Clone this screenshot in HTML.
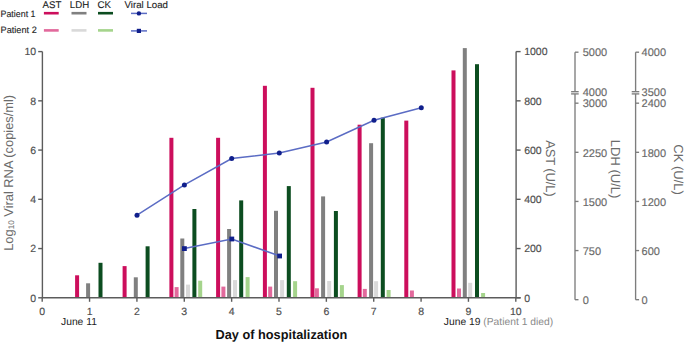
<!DOCTYPE html>
<html><head><meta charset="utf-8"><style>
html,body{margin:0;padding:0;background:#fff;width:685px;height:343px;overflow:hidden}
svg{display:block}
text{font-family:"Liberation Sans", sans-serif;text-rendering:geometricPrecision}
</style></head><body>
<svg width="685" height="343" viewBox="0 0 685 343">

<rect x="75.10" y="275.30" width="4.0" height="22.50" fill="#cc0e5c"/>
<rect x="86.10" y="283.30" width="4.0" height="14.50" fill="#808080"/>
<rect x="98.50" y="262.80" width="4.0" height="35.00" fill="#0c4d20"/>
<rect x="122.60" y="266.10" width="4.0" height="31.70" fill="#cc0e5c"/>
<rect x="133.80" y="277.30" width="4.0" height="20.50" fill="#808080"/>
<rect x="145.60" y="246.30" width="4.0" height="51.50" fill="#0c4d20"/>
<rect x="169.40" y="137.80" width="4.0" height="160.00" fill="#cc0e5c"/>
<rect x="174.60" y="287.10" width="4.0" height="10.70" fill="#e2699c"/>
<rect x="180.30" y="238.50" width="4.0" height="59.30" fill="#808080"/>
<rect x="186.00" y="284.60" width="4.0" height="13.20" fill="#d9d9d9"/>
<rect x="192.40" y="209.00" width="4.0" height="88.80" fill="#0c4d20"/>
<rect x="198.20" y="280.70" width="4.0" height="17.10" fill="#a5d48c"/>
<rect x="216.10" y="137.80" width="4.0" height="160.00" fill="#cc0e5c"/>
<rect x="221.40" y="286.60" width="4.0" height="11.20" fill="#e2699c"/>
<rect x="227.10" y="229.00" width="4.0" height="68.80" fill="#808080"/>
<rect x="233.00" y="280.10" width="4.0" height="17.70" fill="#d9d9d9"/>
<rect x="239.20" y="200.40" width="4.0" height="97.40" fill="#0c4d20"/>
<rect x="245.60" y="277.10" width="4.0" height="20.70" fill="#a5d48c"/>
<rect x="262.90" y="85.80" width="4.0" height="212.00" fill="#cc0e5c"/>
<rect x="268.20" y="286.60" width="4.0" height="11.20" fill="#e2699c"/>
<rect x="274.00" y="210.80" width="4.0" height="87.00" fill="#808080"/>
<rect x="280.10" y="280.10" width="4.0" height="17.70" fill="#d9d9d9"/>
<rect x="286.80" y="186.10" width="4.0" height="111.70" fill="#0c4d20"/>
<rect x="293.10" y="281.20" width="4.0" height="16.60" fill="#a5d48c"/>
<rect x="310.50" y="87.80" width="4.0" height="210.00" fill="#cc0e5c"/>
<rect x="314.90" y="288.30" width="4.0" height="9.50" fill="#e2699c"/>
<rect x="321.10" y="196.40" width="4.0" height="101.40" fill="#808080"/>
<rect x="327.20" y="281.00" width="4.0" height="16.80" fill="#d9d9d9"/>
<rect x="333.90" y="211.00" width="4.0" height="86.80" fill="#0c4d20"/>
<rect x="339.90" y="285.10" width="4.0" height="12.70" fill="#a5d48c"/>
<rect x="357.60" y="124.70" width="4.0" height="173.10" fill="#cc0e5c"/>
<rect x="362.80" y="288.90" width="4.0" height="8.90" fill="#e2699c"/>
<rect x="369.10" y="143.20" width="4.0" height="154.60" fill="#808080"/>
<rect x="374.10" y="281.20" width="4.0" height="16.60" fill="#d9d9d9"/>
<rect x="380.80" y="117.70" width="4.0" height="180.10" fill="#0c4d20"/>
<rect x="386.60" y="290.00" width="4.0" height="7.80" fill="#a5d48c"/>
<rect x="404.30" y="120.60" width="4.0" height="177.20" fill="#cc0e5c"/>
<rect x="409.90" y="290.50" width="4.0" height="7.30" fill="#e2699c"/>
<rect x="451.50" y="70.40" width="4.0" height="227.40" fill="#cc0e5c"/>
<rect x="457.00" y="288.50" width="4.0" height="9.30" fill="#e2699c"/>
<rect x="462.80" y="48.10" width="4.0" height="249.70" fill="#808080"/>
<rect x="468.20" y="282.80" width="4.0" height="15.00" fill="#d9d9d9"/>
<rect x="475.00" y="64.20" width="4.0" height="233.60" fill="#0c4d20"/>
<rect x="481.10" y="293.00" width="4.0" height="4.80" fill="#a5d48c"/>
<g stroke="#5c5c5c" stroke-width="1.4" fill="none">
<line x1="42.400000000000006" y1="51.6" x2="42.400000000000006" y2="297.8"/>
<line x1="38.2" y1="297.80" x2="42.400000000000006" y2="297.80"/>
<line x1="38.2" y1="248.56" x2="42.400000000000006" y2="248.56"/>
<line x1="38.2" y1="199.32" x2="42.400000000000006" y2="199.32"/>
<line x1="38.2" y1="150.08" x2="42.400000000000006" y2="150.08"/>
<line x1="38.2" y1="100.84" x2="42.400000000000006" y2="100.84"/>
<line x1="38.2" y1="51.60" x2="42.400000000000006" y2="51.60"/>
<line x1="42.2" y1="297.8" x2="520.6" y2="297.8"/>
<line x1="42.20" y1="297.8" x2="42.20" y2="301.8"/>
<line x1="89.56" y1="297.8" x2="89.56" y2="301.8"/>
<line x1="136.92" y1="297.8" x2="136.92" y2="301.8"/>
<line x1="184.28" y1="297.8" x2="184.28" y2="301.8"/>
<line x1="231.64" y1="297.8" x2="231.64" y2="301.8"/>
<line x1="279.00" y1="297.8" x2="279.00" y2="301.8"/>
<line x1="326.36" y1="297.8" x2="326.36" y2="301.8"/>
<line x1="373.72" y1="297.8" x2="373.72" y2="301.8"/>
<line x1="421.08" y1="297.8" x2="421.08" y2="301.8"/>
<line x1="468.44" y1="297.8" x2="468.44" y2="301.8"/>
<line x1="515.80" y1="297.8" x2="515.80" y2="301.8"/>
<line x1="516.10" y1="51.6" x2="516.10" y2="297.8"/>
<line x1="516.10" y1="297.80" x2="520.60" y2="297.80"/>
<line x1="516.10" y1="248.56" x2="520.60" y2="248.56"/>
<line x1="516.10" y1="199.32" x2="520.60" y2="199.32"/>
<line x1="516.10" y1="150.08" x2="520.60" y2="150.08"/>
<line x1="516.10" y1="100.84" x2="520.60" y2="100.84"/>
<line x1="516.10" y1="51.60" x2="520.60" y2="51.60"/>
</g>
<g stroke="#7d7d7d" stroke-width="1.35" fill="none">
<line x1="575.0" y1="52.2" x2="575.0" y2="91.7"/>
<line x1="575.0" y1="93.9" x2="575.0" y2="299.7"/>
<line x1="575.0" y1="52.2" x2="578.5" y2="52.2"/>
<line x1="575.0" y1="299.70" x2="578.5" y2="299.70"/>
<line x1="575.0" y1="250.57" x2="578.5" y2="250.57"/>
<line x1="575.0" y1="201.44" x2="578.5" y2="201.44"/>
<line x1="575.0" y1="152.31" x2="578.5" y2="152.31"/>
<line x1="575.0" y1="103.18" x2="578.5" y2="103.18"/>
<line x1="571.1" y1="91.7" x2="578.7" y2="91.7"/>
<line x1="571.1" y1="93.9" x2="578.7" y2="93.9"/>
<line x1="635.6" y1="52.2" x2="635.6" y2="91.7"/>
<line x1="635.6" y1="93.9" x2="635.6" y2="299.7"/>
<line x1="635.6" y1="52.2" x2="639.1" y2="52.2"/>
<line x1="635.6" y1="299.70" x2="639.1" y2="299.70"/>
<line x1="635.6" y1="250.57" x2="639.1" y2="250.57"/>
<line x1="635.6" y1="201.44" x2="639.1" y2="201.44"/>
<line x1="635.6" y1="152.31" x2="639.1" y2="152.31"/>
<line x1="635.6" y1="103.18" x2="639.1" y2="103.18"/>
<line x1="631.7" y1="91.7" x2="639.3000000000001" y2="91.7"/>
<line x1="631.7" y1="93.9" x2="639.3000000000001" y2="93.9"/>
</g>
<polyline points="137,215.2 184.4,184.9 231.7,158.5 279.3,153.1 326.6,142.0 374.0,120.3 421.3,107.8" fill="none" stroke="#5b6cc4" stroke-width="1.5"/>
<polyline points="184.4,248.6 231.8,239.0 279.6,256.0" fill="none" stroke="#5b6cc4" stroke-width="1.5"/>
<circle cx="137" cy="215.2" r="2.5" fill="#101f8c"/>
<circle cx="184.4" cy="184.9" r="2.5" fill="#101f8c"/>
<circle cx="231.7" cy="158.5" r="2.5" fill="#101f8c"/>
<circle cx="279.3" cy="153.1" r="2.5" fill="#101f8c"/>
<circle cx="326.6" cy="142.0" r="2.5" fill="#101f8c"/>
<circle cx="374.0" cy="120.3" r="2.5" fill="#101f8c"/>
<circle cx="421.3" cy="107.8" r="2.5" fill="#101f8c"/>
<rect x="182.0" y="246.2" width="4.8" height="4.8" fill="#101f8c"/>
<rect x="229.4" y="236.6" width="4.8" height="4.8" fill="#101f8c"/>
<rect x="277.20000000000005" y="253.6" width="4.8" height="4.8" fill="#101f8c"/>
<g font-size="10.5" fill="#4d4d4d" stroke="#4d4d4d" stroke-width="0.15">
<text x="36.2" y="301.60" text-anchor="end">0</text>
<text x="36.2" y="252.36" text-anchor="end">2</text>
<text x="36.2" y="203.12" text-anchor="end">4</text>
<text x="36.2" y="153.88" text-anchor="end">6</text>
<text x="36.2" y="104.64" text-anchor="end">8</text>
<text x="36.2" y="55.40" text-anchor="end">10</text>
<text x="42.20" y="314.5" text-anchor="middle">0</text>
<text x="89.56" y="314.5" text-anchor="middle">1</text>
<text x="136.92" y="314.5" text-anchor="middle">2</text>
<text x="184.28" y="314.5" text-anchor="middle">3</text>
<text x="231.64" y="314.5" text-anchor="middle">4</text>
<text x="279.00" y="314.5" text-anchor="middle">5</text>
<text x="326.36" y="314.5" text-anchor="middle">6</text>
<text x="373.72" y="314.5" text-anchor="middle">7</text>
<text x="421.08" y="314.5" text-anchor="middle">8</text>
<text x="468.44" y="314.5" text-anchor="middle">9</text>
<text x="515.80" y="314.5" text-anchor="middle">10</text>
<text x="524.2" y="301.60">0</text>
<text x="524.2" y="252.36">200</text>
<text x="524.2" y="203.12">400</text>
<text x="524.2" y="153.88">600</text>
<text x="524.2" y="104.64">800</text>
<text x="524.2" y="55.40">1000</text>
</g>
<g font-size="11" fill="#6a6a6a" stroke="#6a6a6a" stroke-width="0.15">
<text x="582.7" y="303.90" font-size="11">0</text>
<text x="582.7" y="254.77" font-size="11">750</text>
<text x="582.7" y="205.64" font-size="11">1500</text>
<text x="582.7" y="156.51" font-size="11">2250</text>
<text x="582.7" y="107.38" font-size="11">3000</text>
<text x="582.7" y="96.40" font-size="11">4000</text>
<text x="582.7" y="56.40" font-size="11">5000</text>
<text x="641.6" y="303.90" font-size="11">0</text>
<text x="641.6" y="254.77" font-size="11">600</text>
<text x="641.6" y="205.64" font-size="11">1200</text>
<text x="641.6" y="156.51" font-size="11">1800</text>
<text x="641.6" y="107.38" font-size="11">2400</text>
<text x="641.6" y="96.40" font-size="11">3500</text>
<text x="641.6" y="56.40" font-size="11">4000</text>
</g>
<g font-size="13" fill="#6b6b6b">
<text transform="translate(13.1,250.8) rotate(-90)" font-size="12.85">Log<tspan font-size="8.2" dy="0.5">10</tspan><tspan dy="-0.5"> Viral RNA (copies/ml)</tspan></text>
<text transform="translate(545.9,140.3) rotate(90)" textLength="56.3">AST (U/L)</text>
<text transform="translate(610.8,139.8) rotate(90)">LDH (U/L)</text>
<text transform="translate(674.3,144.3) rotate(90)">CK (U/L)</text>
</g>
<text x="61" y="324.5" font-size="10.3" fill="#222">June 11</text>
<text x="443.8" y="324.5" font-size="10.3" fill="#222">June 19 <tspan fill="#8a8a8a">(Patient 1 died)</tspan></text>
<text x="215.6" y="338.8" font-size="13" font-weight="bold" fill="#111" textLength="131.6" lengthAdjust="spacingAndGlyphs">Day of hospitalization</text>
<g font-size="9.2" fill="#1e1e1e" stroke="#1e1e1e" stroke-width="0.12">
<text x="0.5" y="16.9" textLength="35" lengthAdjust="spacingAndGlyphs">Patient 1</text>
<text x="0.5" y="33.2">Patient 2</text>
<text x="42.6" y="7.6" font-size="9.7">AST</text>
<text x="69.8" y="7.6" font-size="9.7">LDH</text>
<text x="97.4" y="7.6" font-size="9.7">CK</text>
<text x="124.5" y="7.6" font-size="9.7">Viral Load</text>
</g>
<rect x="43.9" y="11.9" width="14.8" height="2.6" fill="#cc0e5c"/>
<rect x="43.9" y="29.1" width="14.8" height="2.6" fill="#e2699c"/>
<rect x="71.5" y="11.9" width="15.0" height="2.6" fill="#808080"/>
<rect x="71.5" y="29.1" width="15.0" height="2.6" fill="#d9d9d9"/>
<rect x="98.0" y="11.9" width="15.0" height="2.6" fill="#0c4d20"/>
<rect x="98.0" y="29.1" width="15.0" height="2.6" fill="#a5d48c"/>
<line x1="131" y1="13.4" x2="147" y2="13.4" stroke="#5b6cc4" stroke-width="1.5"/>
<line x1="131" y1="30.9" x2="147" y2="30.9" stroke="#5b6cc4" stroke-width="1.5"/>
<circle cx="138.9" cy="13.4" r="2.2" fill="#101f8c"/>
<rect x="136.8" y="28.8" width="4.2" height="4.2" fill="#101f8c"/>
</svg></body></html>
